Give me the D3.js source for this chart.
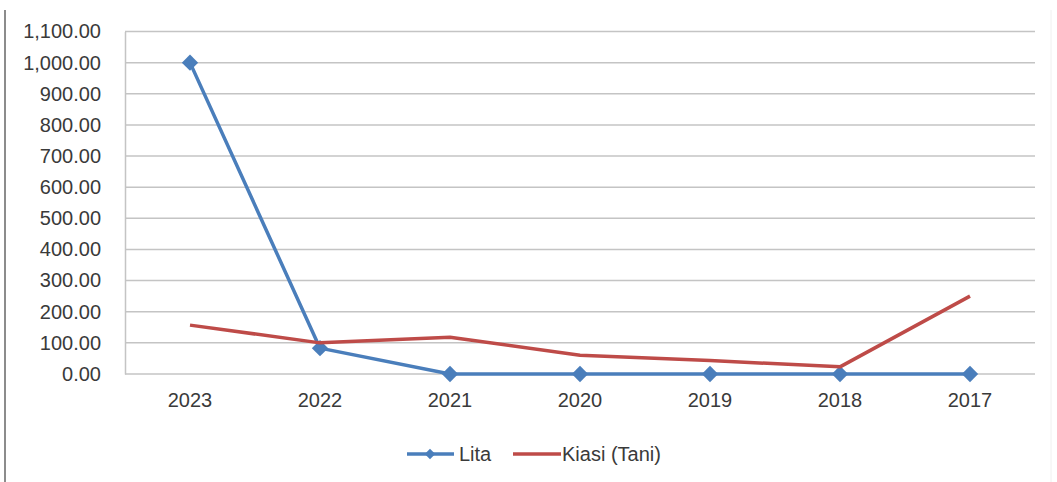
<!DOCTYPE html>
<html>
<head>
<meta charset="utf-8">
<script src="https://cdn.jsdelivr.net/npm/d3@7"></script>
<style>
  html, body { margin: 0; padding: 0; background: #fff; }
  svg { display: block; }
  text { font-family: "Liberation Sans", Arial, sans-serif; fill: #3a3a3a; }
</style>
</head>
<body>
<svg id="chart" width="1057" height="482"></svg>
<script>
const categories = ["2023", "2022", "2021", "2020", "2019", "2018", "2017"];
const litaValues = [1000, 83, 0, 0, 0, 0, 0];
const kiasiValues = [157, 100, 118, 60, 43, 23, 250];
const yTicks = [0, 100, 200, 300, 400, 500, 600, 700, 800, 900, 1000, 1100];
const seriesNames = ["Lita", "Kiasi (Tani)"];

const svg = d3.select("#chart");
const W = 1057, H = 482;
const plot = { left: 125, right: 1035, top: 31.5, bottom: 374 };
const FONT = "20px";

// frame line on the left
svg.append("line")
  .attr("x1", 5).attr("x2", 5).attr("y1", 10).attr("y2", H)
  .attr("stroke", "#8c8c8c").attr("stroke-width", 2);
svg.append("line")
  .attr("x1", 1051).attr("x2", 1051).attr("y1", 10).attr("y2", H)
  .attr("stroke", "#f0f0f0").attr("stroke-width", 1);

const x = d3.scaleBand().domain(categories).range([plot.left, plot.right]).padding(0);
const y = d3.scaleLinear().domain([0, 1100]).range([plot.bottom, plot.top]);
const cx = c => x(c) + x.bandwidth() / 2;

// gridlines
svg.append("g").selectAll("line").data(yTicks).join("line")
  .attr("x1", plot.left).attr("x2", plot.right)
  .attr("y1", d => y(d)).attr("y2", d => y(d))
  .attr("stroke", "#c4c4c4").attr("stroke-width", 1.5);

// y axis
const yAxis = d3.axisLeft(y).tickValues(yTicks).tickSize(0).tickPadding(24)
  .tickFormat(d3.format(",.2f"));
const yg = svg.append("g").attr("transform", `translate(${plot.left},0)`).call(yAxis);
yg.select(".domain").attr("stroke", "#c4c4c4").attr("stroke-width", 1.5);
yg.selectAll("text").style("font-size", FONT).attr("fill", "#3a3a3a")
  .style("font-family", "'Liberation Sans', Arial, sans-serif");

// x axis
const xAxis = d3.axisBottom(x).tickSize(0).tickPadding(19);
const xg = svg.append("g").attr("transform", `translate(0,${plot.bottom})`).call(xAxis);
xg.select(".domain").remove();
xg.selectAll("text").style("font-size", FONT).attr("fill", "#3a3a3a")
  .style("font-family", "'Liberation Sans', Arial, sans-serif");

const line = d3.line().x(d => cx(d.c)).y(d => y(d.v));
const litaData = categories.map((c, i) => ({ c, v: litaValues[i] }));
const kiasiData = categories.map((c, i) => ({ c, v: kiasiValues[i] }));

const blue = "#4a7ebb", red = "#be4b48";

svg.append("path").datum(litaData).attr("d", line)
  .attr("fill", "none").attr("stroke", blue).attr("stroke-width", 3.5)
  .attr("stroke-linejoin", "round");

const diamond = d3.symbol().type(d3.symbolDiamond2).size(170);
svg.append("g").selectAll("path").data(litaData).join("path")
  .attr("d", diamond)
  .attr("transform", d => `translate(${cx(d.c)},${y(d.v)})`)
  .attr("fill", blue);

svg.append("path").datum(kiasiData).attr("d", line)
  .attr("fill", "none").attr("stroke", red).attr("stroke-width", 3.5)
  .attr("stroke-linejoin", "round");

// legend
const legY = 454;
const leg = svg.append("g");
leg.append("line").attr("x1", 407).attr("x2", 454).attr("y1", legY).attr("y2", legY)
  .attr("stroke", blue).attr("stroke-width", 3.5);
leg.append("path").attr("d", d3.symbol().type(d3.symbolDiamond2).size(70))
  .attr("transform", `translate(430,${legY})`).attr("fill", blue);
leg.append("text").attr("x", 459).attr("y", legY).attr("dy", "0.35em")
  .style("font-size", FONT).text(seriesNames[0]);
leg.append("line").attr("x1", 513).attr("x2", 561).attr("y1", legY).attr("y2", legY)
  .attr("stroke", red).attr("stroke-width", 3.5);
leg.append("text").attr("x", 562).attr("y", legY).attr("dy", "0.35em")
  .style("font-size", FONT).text(seriesNames[1]);
</script>
</body>
</html>
